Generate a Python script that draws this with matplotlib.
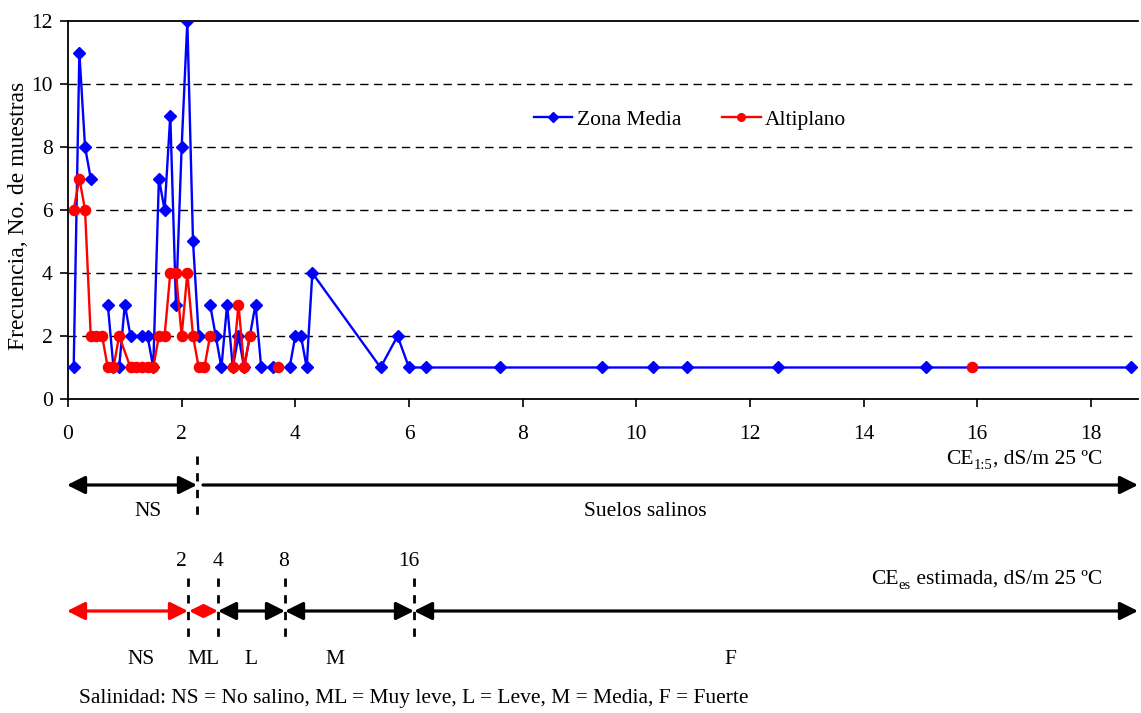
import numpy as np
import matplotlib
matplotlib.use("Agg")
import matplotlib.pyplot as plt

plt.rcParams['font.family'] = ['Liberation Serif', 'DejaVu Serif']
plt.rcParams['mathtext.fontset'] = 'custom'
plt.rcParams['mathtext.rm'] = 'Liberation Serif'
plt.rcParams['mathtext.it'] = 'Liberation Serif:italic'
plt.rcParams['mathtext.bf'] = 'Liberation Serif:bold'

nan = np.nan
# Zona Media (x = CE1:5 dS/m, y = frequency); NaN = break in line
zm_x = [0.1, 0.2, 0.3, 0.4, 0.5, 0.7, 0.8, 0.9, 1.0, 1.1, 1.3, 1.4, 1.5, 1.6, 1.7,
        1.8, 1.9, 2.0, 2.1, 2.2, 2.3, 2.4, 2.5, 2.6, 2.7, 2.8, 2.9, 3.0, 3.1, 3.3,
        3.4, 3.5, 3.6, 3.7, 3.9, 4.0, 4.1, 4.2, 4.3, 5.5, 5.8, 6.0, 6.3, 7.6, 9.4,
        10.3, 10.9, 12.5, 15.1, 18.7]
zm_y = [1, 11, 8, 7, nan, 3, 1, 1, 3, 2, 2, 2, 1, 7, 6,
        9, 3, 8, 12, 5, 2, nan, 3, 2, 1, 3, 1, 2, 1, 3,
        1, nan, 1, nan, 1, 2, 2, 1, 4, 1, 2, 1, 1, 1, 1,
        1, 1, 1, 1, 1]

# Altiplano
al_x = [0.1, 0.2, 0.3, 0.4, 0.5, 0.6, 0.7, 0.8, 0.9, 1.1, 1.2, 1.3, 1.4, 1.5,
        1.6, 1.7, 1.8, 1.9, 2.0, 2.1, 2.2, 2.3, 2.4, 2.5, 2.7, 2.9, 3.0, 3.1,
        3.2, 3.5, 3.7, 10.0, 15.9]
al_y = [6, 7, 6, 2, 2, 2, 1, 1, 2, 1, 1, 1, 1, 1,
        2, 2, 4, 4, 2, 4, 2, 1, 1, 2, nan, 1, 3, 1,
        2, nan, 1, nan, 1]

y_ticks = [0, 2, 4, 6, 8, 10, 12]
x_ticks = [0, 2, 4, 6, 8, 10, 12, 14, 16, 18]

FS = 15.5
W, H = 1141, 713
fig = plt.figure(figsize=(W / 100, H / 100), dpi=100)
fig.patch.set_facecolor('white')


def fx(px):
    return px / W


def fy(py):
    return 1 - py / H


ax = fig.add_axes([fx(68), fy(399), fx(1138) - fx(68), fy(21) - fy(399)])
ax.set_xlim(0, 18.83)
ax.set_ylim(0, 12)
ax.set_xticks(x_ticks)
ax.set_yticks(y_ticks)
ax.tick_params(direction='out', length=6, width=1.2, labelsize=FS, pad=13, axis='x')
ax.tick_params(direction='out', length=6, width=1.2, labelsize=FS, pad=5, axis='y')
ax.spines['right'].set_visible(False)
ax.spines['left'].set_linewidth(1.3)
ax.spines['bottom'].set_linewidth(1.3)
ax.spines['top'].set_linewidth(1.3)
for yv in y_ticks[1:-1]:
    ax.axhline(yv, color='black', lw=1.0, ls=(0, (6, 4)), zorder=0)

ax.plot(zm_x, zm_y, color='#0000FF', lw=1.7, marker='D', ms=6.3, label='Zona Media', zorder=3)
ax.plot(al_x, al_y, color='#FF0000', lw=1.7, marker='o', ms=7.3, label='Altiplano', zorder=4)

ax.set_ylabel('Frecuencia, No. de muestras', fontsize=17)
ax.yaxis.set_label_coords(-0.036, 0.484)
leg = ax.legend(loc='upper left', bbox_to_anchor=(0.417, 0.817), ncol=2, frameon=False,
                fontsize=FS, handlelength=1.8, columnspacing=1.9, handletextpad=0.2,
                markerscale=0.75)

# ---- annotations below the chart (figure pixel positions) ----
def arrow(x0, x1, y, color='black', style='<|-|>', ms=27):
    fig.add_artist(matplotlib.patches.FancyArrowPatch(
        (fx(x0), fy(y)), (fx(x1), fy(y)), transform=fig.transFigure,
        arrowstyle=style, mutation_scale=ms, lw=2.3, color=color,
        shrinkA=0, shrinkB=0))


def vdash(x, y0, y1):
    fig.add_artist(matplotlib.lines.Line2D([fx(x), fx(x)], [fy(y0), fy(y1)],
                                           transform=fig.transFigure, color='black',
                                           lw=2, ls=(0, (3, 3))))


def txt(x, y, s, ha='center', size=FS, va='center'):
    return fig.text(fx(x), fy(y), s, ha=ha, va=va, fontsize=size)


renderer = fig.canvas.get_renderer()


def sub_label(x_right, y_base, main, sub, rest):
    """Draw main + subscript + rest, right-aligned at x_right (pixels), baseline y_base."""
    t3 = txt(x_right, y_base, rest, ha='right', va='baseline')
    w3 = t3.get_window_extent(renderer).width
    t2 = txt(x_right - w3, y_base + 5, sub, ha='right', va='baseline', size=FS * 0.68)
    w2 = t2.get_window_extent(renderer).width
    txt(x_right - w3 - w2, y_base, main, ha='right', va='baseline')


# row 1
arrow(67, 197, 485)
arrow(203, 1138, 485, style='-|>')
vdash(197, 456, 520)
sub_label(1102, 464, 'CE', '1:5', ', dS/m 25 ºC')
txt(148, 512, 'NS')
txt(645, 512, 'Suelos salinos')

# row 2
arrow(67, 188, 611, color='#FF0000')
arrow(189, 218, 611, color='#FF0000', ms=19)
arrow(218, 285, 611)
arrow(285, 414, 611)
arrow(414, 1138, 611)
for xp in [188, 218, 285, 414]:
    vdash(xp, 578, 641)
txt(181, 562, '2')
txt(218, 562, '4')
txt(284, 562, '8')
txt(409, 562, '16')
sub_label(1102, 584, 'CE', 'es', ' estimada, dS/m 25 ºC')
txt(141, 659, 'NS')
txt(203, 659, 'ML')
txt(251, 659, 'L')
txt(335, 659, 'M')
txt(730, 659, 'F')
txt(79, 699, 'Salinidad: NS = No salino, ML = Muy leve, L = Leve, M = Media, F = Fuerte',
    ha='left', size=FS)

fig.savefig('out.png', dpi=100)
